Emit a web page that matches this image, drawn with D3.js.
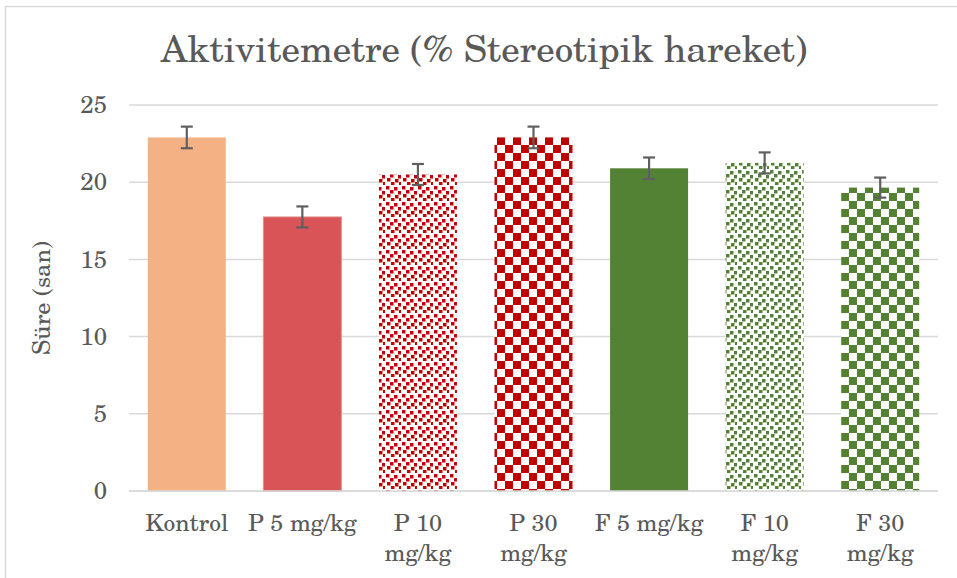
<!DOCTYPE html>
<html>
<head>
    <meta charset="UTF-8">
    <script src="https://d3js.org/d3.v7.min.js"></script>
    <title>Aktivitemetre</title>
    <style type="text/css">
        body { margin: 0; background: #fff; }
        text { font-family: "TeX Gyre Schola", "Century Schoolbook", "C059", serif; fill: #595959; }
    </style>
</head>
<body>
    <script type="text/javascript">
        // chart data
        var categories = ["Kontrol", "P 5 mg/kg", "P 10 mg/kg", "P 30 mg/kg", "F 5 mg/kg", "F 10 mg/kg", "F 30 mg/kg"];
        var tickLabels = [["Kontrol"], ["P 5 mg/kg"], ["P 10", "mg/kg"], ["P 30", "mg/kg"], ["F 5 mg/kg"], ["F 10", "mg/kg"], ["F 30", "mg/kg"]];
        var values = [22.9, 17.75, 20.5, 22.9, 20.9, 21.25, 19.65];
        var errors = [0.7, 0.68, 0.68, 0.7, 0.7, 0.68, 0.65];
        var yTicks = [0, 5, 10, 15, 20, 25];
        var fills = ["#F4B183", "#D85456", "url(#confettiRed)", "url(#checkRed)", "#548235", "url(#confettiGreen)", "url(#checkGreen)"];

        var W = 957, H = 578;
        var margin = { top: 105, left: 129, right: 19, bottom: 87 };
        var width = W - margin.left - margin.right,
            height = H - margin.top - margin.bottom;

        var svg = d3.select("body").append("svg")
            .attr("width", W)
            .attr("height", H);

        // patterns
        var defs = svg.append("defs");
        function confetti(id, color) {
            var p = defs.append("pattern")
                .attr("id", id)
                .attr("patternUnits", "userSpaceOnUse")
                .attr("width", 16).attr("height", 16);
            p.append("rect").attr("width", 16).attr("height", 16).attr("fill", "#fff");
            [[1, 1], [9, 2], [5, 5], [13, 6], [2, 9], [10, 10], [6, 13], [14, 13]].forEach(function (d) {
                p.append("rect").attr("x", d[0]).attr("y", d[1])
                    .attr("width", 3.5).attr("height", 3.5).attr("fill", color);
            });
        }
        function checker(id, color) {
            var p = defs.append("pattern")
                .attr("id", id)
                .attr("patternUnits", "userSpaceOnUse")
                .attr("width", 16).attr("height", 16);
            p.append("rect").attr("width", 16).attr("height", 16).attr("fill", "#fff");
            p.append("rect").attr("width", 8).attr("height", 8).attr("fill", color);
            p.append("rect").attr("x", 8).attr("y", 8).attr("width", 8).attr("height", 8).attr("fill", color);
        }
        confetti("confettiRed", "#C00000");
        checker("checkRed", "#C00000");
        confetti("confettiGreen", "#548235");
        checker("checkGreen", "#548235");

        // outer frame
        svg.append("rect")
            .attr("x", 5.5).attr("y", 6.5)
            .attr("width", 1000).attr("height", 1000)
            .attr("fill", "none")
            .attr("stroke", "#d9d9d9")
            .attr("stroke-width", 1.5);

        var g = svg.append("g")
            .attr("transform", "translate(" + margin.left + "," + margin.top + ")");

        var x = d3.scaleBand()
            .domain(categories)
            .range([0, width])
            .paddingInner(0.325)
            .paddingOuter(0.1625);

        var y = d3.scaleLinear()
            .domain([0, 25])
            .range([height, 0]);

        // gridlines
        g.selectAll(".grid")
            .data(yTicks)
            .enter().append("line")
            .attr("class", "grid")
            .attr("x1", 0).attr("x2", width)
            .attr("y1", function (d) { return y(d); })
            .attr("y2", function (d) { return y(d); })
            .attr("stroke", "#d9d9d9")
            .attr("stroke-width", 1.5);

        // y axis
        var yAxis = d3.axisLeft(y).tickValues(yTicks).tickSize(0).tickPadding(22);
        var yg = g.append("g").call(yAxis);
        yg.attr("font-family", null).attr("font-size", null);
        yg.select(".domain").remove();
        yg.selectAll("text")
            .style("font-size", "24px")
            .attr("fill", "#595959");

        // bars
        g.selectAll(".bar")
            .data(values)
            .enter().append("rect")
            .attr("class", "bar")
            .attr("x", function (d, i) { return x(categories[i]); })
            .attr("width", x.bandwidth())
            .attr("y", function (d) { return y(d); })
            .attr("height", function (d) { return height - y(d); })
            .attr("fill", function (d, i) { return fills[i]; })
            .attr("stroke", function (d, i) { return i === 1 ? "#e38f8f" : "none"; })
            .attr("stroke-width", 1);

        // error bars
        var eb = g.selectAll(".err")
            .data(values)
            .enter().append("g")
            .attr("class", "err")
            .attr("transform", function (d, i) { return "translate(" + (x(categories[i]) + x.bandwidth() / 2) + ",0)"; })
            .attr("stroke", "#5f5f5f")
            .attr("stroke-width", 2.2);
        eb.append("line")
            .attr("y1", function (d, i) { return y(d + errors[i]); })
            .attr("y2", function (d, i) { return y(d - errors[i]); });
        eb.append("line")
            .attr("x1", -6).attr("x2", 6)
            .attr("y1", function (d, i) { return y(d + errors[i]); })
            .attr("y2", function (d, i) { return y(d + errors[i]); });
        eb.append("line")
            .attr("x1", -6).attr("x2", 6)
            .attr("y1", function (d, i) { return y(d - errors[i]); })
            .attr("y2", function (d, i) { return y(d - errors[i]); });

        // x axis baseline
        g.append("line")
            .attr("x1", 0).attr("x2", width)
            .attr("y1", height).attr("y2", height)
            .attr("stroke", "#d9d9d9")
            .attr("stroke-width", 1.5);

        // category labels, one text per line
        var xl = g.selectAll(".xlab")
            .data(categories)
            .enter().append("g")
            .attr("class", "xlab")
            .attr("transform", function (d) { return "translate(" + (x(d) + x.bandwidth() / 2) + "," + (height + 40) + ")"; });
        xl.selectAll("text")
            .data(function (d, i) { return tickLabels[i]; })
            .enter().append("text")
            .attr("text-anchor", "middle")
            .attr("y", function (d, i) { return i * 30; })
            .style("font-size", "23.5px")
            .text(function (d) { return d; });

        // y axis title
        svg.append("text")
            .attr("transform", "translate(50," + (margin.top + height / 2) + ") rotate(-90)")
            .attr("text-anchor", "middle")
            .style("font-size", "24px")
            .text("Süre (san)");

        // chart title
        svg.append("text")
            .attr("x", 484)
            .attr("y", 62)
            .attr("text-anchor", "middle")
            .style("font-size", "37px")
            .text("Aktivitemetre (% Stereotipik hareket)");
    </script>
</body>
</html>
